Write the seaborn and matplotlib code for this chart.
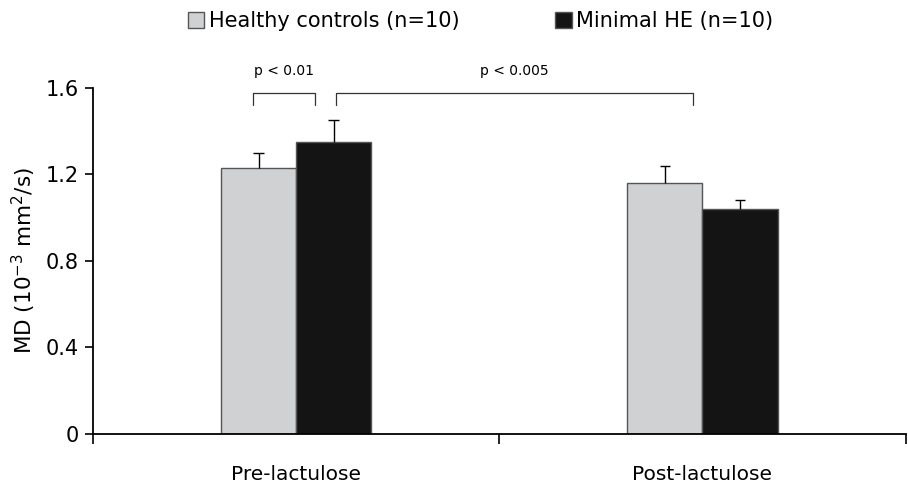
import numpy as np
import pandas as pd
import seaborn as sns
import matplotlib.pyplot as plt

# values
phases = ['Pre-lactulose', 'Post-lactulose']
groups = ['Healthy controls (n=10)', 'Minimal HE (n=10)']
md_healthy = [1.23, 1.16]
md_mhe = [1.35, 1.04]
sd_healthy = [0.07, 0.08]
sd_mhe = [0.10, 0.04]

df = pd.DataFrame({
    'phase': phases * 2,
    'group': [groups[0]] * 2 + [groups[1]] * 2,
    'md': md_healthy + md_mhe,
    'sd': sd_healthy + sd_mhe,
})

sns.set_style('white')
plt.rcParams['font.family'] = ['DejaVu Sans']
plt.rcParams['text.color'] = 'black'
plt.rcParams['axes.labelcolor'] = 'black'
plt.rcParams['xtick.color'] = 'black'
plt.rcParams['ytick.color'] = 'black'

fig = plt.figure(figsize=(9.08, 4.84), dpi=100)
ax = fig.add_axes([0.1024, 0.1033, 0.895, 0.7149])

sns.barplot(data=df, x='phase', y='md', hue='group', order=phases, hue_order=groups,
            palette=['#d0d1d3', '#141414'], width=0.37, errorbar=None,
            edgecolor='#555555', linewidth=1.0, ax=ax)

# upward-only error bars at each bar centre
cap = 0.013
for patch, (_, row) in zip(ax.patches, df.iterrows()):
    cx = patch.get_x() + patch.get_width() / 2
    top = row['md'] + row['sd']
    ax.vlines(cx, row['md'], top, color='black', lw=1.0)
    ax.hlines(top, cx - cap, cx + cap, color='black', lw=1.0)

ax.set_xlim(-0.5, 1.5)
ax.set_ylim(0, 1.6)
ax.set_yticks([0, 0.4, 0.8, 1.2, 1.6])
ax.set_yticklabels(['0', '0.4', '0.8', '1.2', '1.6'])
ax.set_xticks([-0.5, 0.5, 1.5])
ax.set_xticklabels([])
ax.set_xticks([0, 1], minor=True)
ax.set_xticklabels(phases, minor=True)
ax.tick_params(axis='x', which='major', bottom=True, direction='out', length=7, width=1.2)
ax.tick_params(axis='x', which='minor', bottom=True, length=0, pad=22, labelsize=14.5)
ax.tick_params(axis='y', left=True, direction='out', length=6, width=1.2, labelsize=15, pad=4)

ax.set_xlabel('')
ax.set_ylabel('MD (10$^{-3}$ mm$^2$/s)', fontsize=15.5, labelpad=6)
sns.despine(ax=ax)
for s in ['left', 'bottom']:
    ax.spines[s].set_color('black')
    ax.spines[s].set_linewidth(1.3)

# significance brackets
def bracket(x0, x1, y, h, label):
    ax.plot([x0, x0, x1, x1], [y - h, y, y, y - h], color='#333333', lw=0.9, clip_on=False)
    ax.text((x0 + x1) / 2, y + 0.07, label, ha='center', va='bottom', fontsize=10, clip_on=False)

bracket(-0.105, 0.047, 1.577, 0.056, 'p < 0.01')
bracket(0.099, 0.977, 1.577, 0.056, 'p < 0.005')

handles, labels = ax.get_legend_handles_labels()
ax.get_legend().remove()
fig.legend(handles, labels, loc='upper center', bbox_to_anchor=(0.529, 1.016), ncol=2,
           frameon=False, fontsize=15, handlelength=0.8, handleheight=0.8,
           handletextpad=0.2, columnspacing=4.6)

fig.savefig('out.png', dpi=100)
